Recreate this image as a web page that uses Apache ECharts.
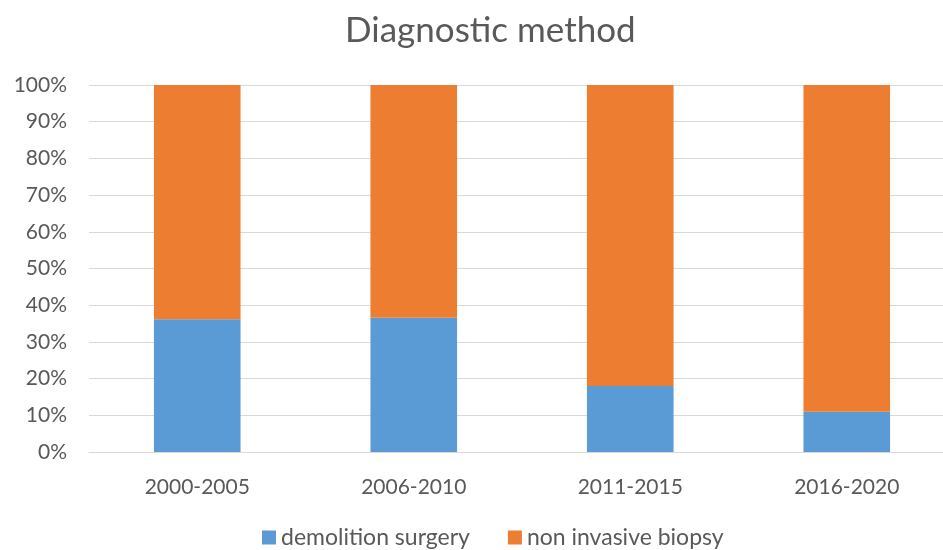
<!DOCTYPE html>
<html><head><meta charset="utf-8">
<script src="https://cdn.jsdelivr.net/npm/echarts@6/dist/echarts.min.js"></script>
<style>html,body{margin:0;padding:0;background:#fff}#c{width:943px;height:550px}</style>
</head><body><div id="c"></div>
<script>
var categories = ['2000-2005', '2006-2010', '2011-2015', '2016-2020'];
var demolitionSurgery = [36.2, 36.6, 18.0, 11.0];
var nonInvasiveBiopsy = [63.8, 63.4, 82.0, 89.0];
var yTicks = [0, 10, 20, 30, 40, 50, 60, 70, 80, 90, 100];

var font = 'Lato, "Open Sans", sans-serif';
var chart = echarts.init(document.getElementById('c'), null, {renderer: 'canvas'});
chart.setOption({
  animation: false,
  backgroundColor: '#fff',
  title: {
    text: 'Diagnostic method', left: 340, top: 8,
    textStyle: {fontFamily: font, fontSize: 35, fontWeight: 'normal', color: '#595959'}
  },
  legend: {
    top: 521, left: 257, itemWidth: 14, itemHeight: 14, itemGap: 38,
    icon: 'rect',
    textStyle: {fontFamily: font, fontSize: 23, color: '#595959'},
    data: ['demolition surgery', 'non invasive biopsy']
  },
  grid: {left: 89, width: 866, top: 85, height: 367, outerBoundsMode: 'none', containLabel: false},
  xAxis: {
    type: 'category', data: categories,
    axisLine: {lineStyle: {color: '#d9d9d9'}},
    axisTick: {show: false},
    axisLabel: {fontFamily: font, fontSize: 21, color: '#595959', margin: 25}
  },
  yAxis: {
    type: 'value', min: yTicks[0], max: yTicks[yTicks.length - 1], interval: 10,
    axisLine: {show: false}, axisTick: {show: false},
    splitLine: {lineStyle: {color: '#d9d9d9'}},
    axisLabel: {fontFamily: font, fontSize: 21, color: '#595959', margin: 22,
      formatter: function (v) { return v + '%'; }}
  },
  series: [
    {name: 'demolition surgery', type: 'bar', stack: 's', data: demolitionSurgery,
      barWidth: '40%', itemStyle: {color: '#5B9BD5'}},
    {name: 'non invasive biopsy', type: 'bar', stack: 's', data: nonInvasiveBiopsy,
      barWidth: '40%', itemStyle: {color: '#ED7D31'}}
  ]
});
</script></body></html>
